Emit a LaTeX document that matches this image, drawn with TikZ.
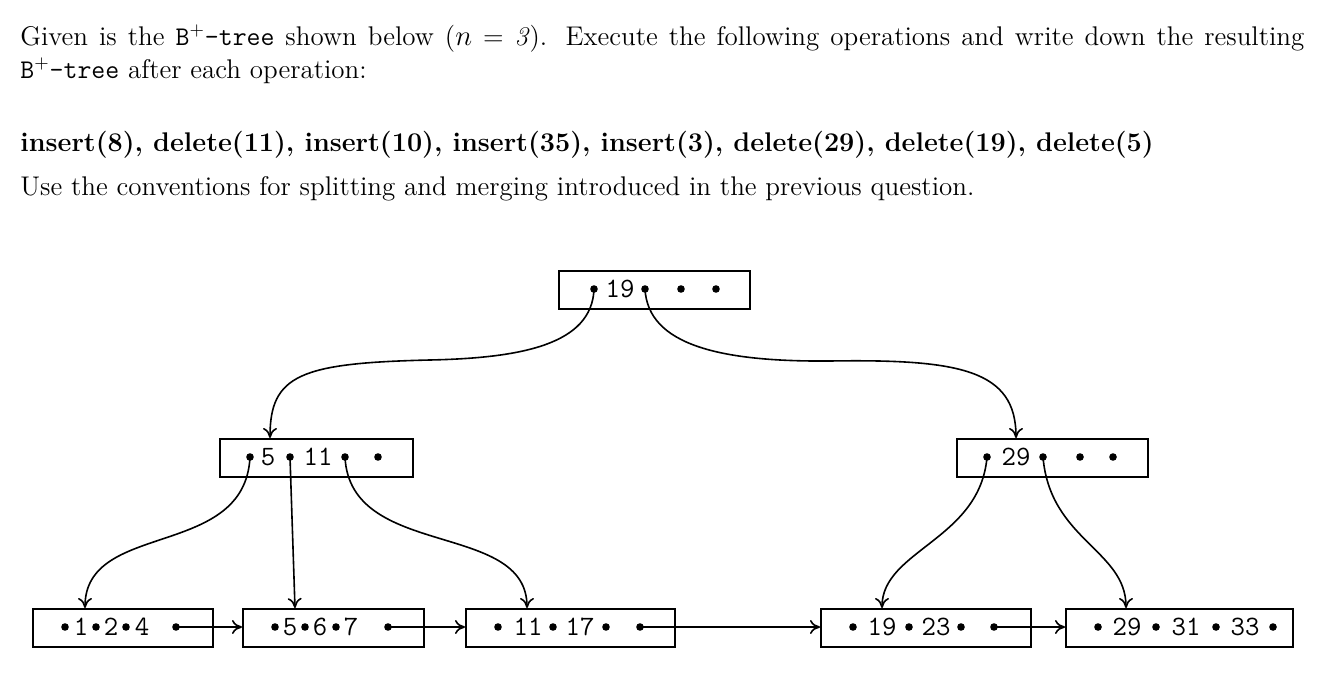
\documentclass[tikz,border=0pt]{standalone}
\usetikzlibrary{arrows.meta}
\begin{document}
\begin{tikzpicture}[x=0.5pt,y=-0.5pt,
  box/.style={draw,line width=0.8pt,inner sep=0pt,anchor=north west},
  dot/.style={circle,fill,inner sep=0pt,minimum size=3.8pt},
  key/.style={font=\ttfamily\fontsize{14}{15}\selectfont,inner sep=0pt},
  ptr/.style={line width=0.8pt,-{To[length=5pt,width=7pt]}},
  txt/.style={anchor=base west,inner sep=0pt,font=\fontsize{13.5}{16.5}\selectfont}]
\useasboundingbox (0,0) rectangle (1328,674);
% text
\node[txt,text width=642pt,align=justify] (t1) at (20,46) {Given is the \texttt{B$^{+}$-tree} shown below ($n$ = \textit{3}). Execute the following operations and write down the resulting\linebreak \texttt{B$^{+}$-tree} after each operation:};
\node[txt] (t2) at (20,152) {\textbf{insert(8), delete(11), insert(10), insert(35), insert(3), delete(29), delete(19), delete(5)}};
\node[txt] (t3) at (20,195) {Use the conventions for splitting and merging introduced in the previous question.};
% boxes
\node[box,minimum width=95.5pt,minimum height=19pt] (root) at (558,270) {};
\node[box,minimum width=96.5pt,minimum height=19pt] (il) at (219,438) {};
\node[box,minimum width=95.5pt,minimum height=19pt] (ir) at (956,438) {};
\node[box,minimum width=90pt,minimum height=19pt] (l1) at (32,608) {};
\node[box,minimum width=90.5pt,minimum height=19pt] (l2) at (242,608) {};
\node[box,minimum width=104.5pt,minimum height=19pt] (l3) at (465,608) {};
\node[box,minimum width=105pt,minimum height=19pt] (l4) at (820,608) {};
\node[box,minimum width=113.5pt,minimum height=19pt] (l5) at (1065,608) {};
% root
\node[dot] (r0) at (594,289) {}; \node[key] (rk1) at (620,289) {19};
\node[dot] (r1) at (645,289) {}; \node[dot] (r2) at (681,289) {}; \node[dot] (r3) at (716,289) {};
% internal left
\node[dot] (a0) at (250,457) {}; \node[key] (ak1) at (268,457) {5};
\node[dot] (a1) at (290,457) {}; \node[key] (ak2) at (318,457) {11};
\node[dot] (a2) at (345,457) {}; \node[dot] (a3) at (378,457) {};
% internal right
\node[dot] (b0) at (987,457) {}; \node[key] (bk1) at (1016,457) {29};
\node[dot] (b1) at (1043,457) {}; \node[dot] (b2) at (1080,457) {}; \node[dot] (b3) at (1113,457) {};
% leaf 1
\node[dot] (c0) at (65,627) {}; \node[key] at (81,627) {1};
\node[dot] (c1) at (96,627) {}; \node[key] at (111,627) {2};
\node[dot] (c2) at (126,627) {}; \node[key] at (142,627) {4};
\node[dot] (c3) at (176,627) {};
% leaf 2
\node[dot] (d0) at (275,627) {}; \node[key] at (290,627) {5};
\node[dot] (d1) at (305,627) {}; \node[key] at (320,627) {6};
\node[dot] (d2) at (336,627) {}; \node[key] at (351,627) {7};
\node[dot] (d3) at (388,627) {};
% leaf 3
\node[dot] (e0) at (498,627) {}; \node[key] at (528,627) {11};
\node[dot] (e1) at (553,627) {}; \node[key] at (580,627) {17};
\node[dot] (e2) at (606,627) {}; \node[dot] (e3) at (640,627) {};
% leaf 4
\node[dot] (f0) at (853,627) {}; \node[key] at (882,627) {19};
\node[dot] (f1) at (909,627) {}; \node[key] at (936,627) {23};
\node[dot] (f2) at (961,627) {}; \node[dot] (f3) at (994,627) {};
% leaf 5
\node[dot] (g0) at (1098,627) {}; \node[key] at (1127,627) {29};
\node[dot] (g1) at (1156,627) {}; \node[key] at (1186,627) {31};
\node[dot] (g2) at (1216,627) {}; \node[key] at (1245,627) {33};
\node[dot] (g3) at (1273,627) {};
% tree pointers
\draw[ptr] (r0.center) .. controls (592,345) and (520,358) .. (430,360) .. controls (300,363) and (270,375) .. (270,438);
\draw[ptr] (r1.center) .. controls (648,345) and (720,362) .. (830,361) .. controls (960,359) and (1016,370) .. (1016,438);
\draw[ptr] (a0.center) .. controls (245,560) and (85,520) .. (85,608);
\draw[ptr] (a1.center) -- (295,608);
\draw[ptr] (a2.center) .. controls (350,560) and (527,520) .. (527,608);
\draw[ptr] (b0.center) .. controls (980,540) and (882,550) .. (882,608);
\draw[ptr] (b1.center) .. controls (1050,540) and (1126,550) .. (1126,608);
% leaf links
\draw[ptr] (c3.center) -- (c3.center -| l2.west);
\draw[ptr] (d3.center) -- (d3.center -| l3.west);
\draw[ptr] (e3.center) -- (e3.center -| l4.west);
\draw[ptr] (f3.center) -- (f3.center -| l5.west);
\end{tikzpicture}
\end{document}
